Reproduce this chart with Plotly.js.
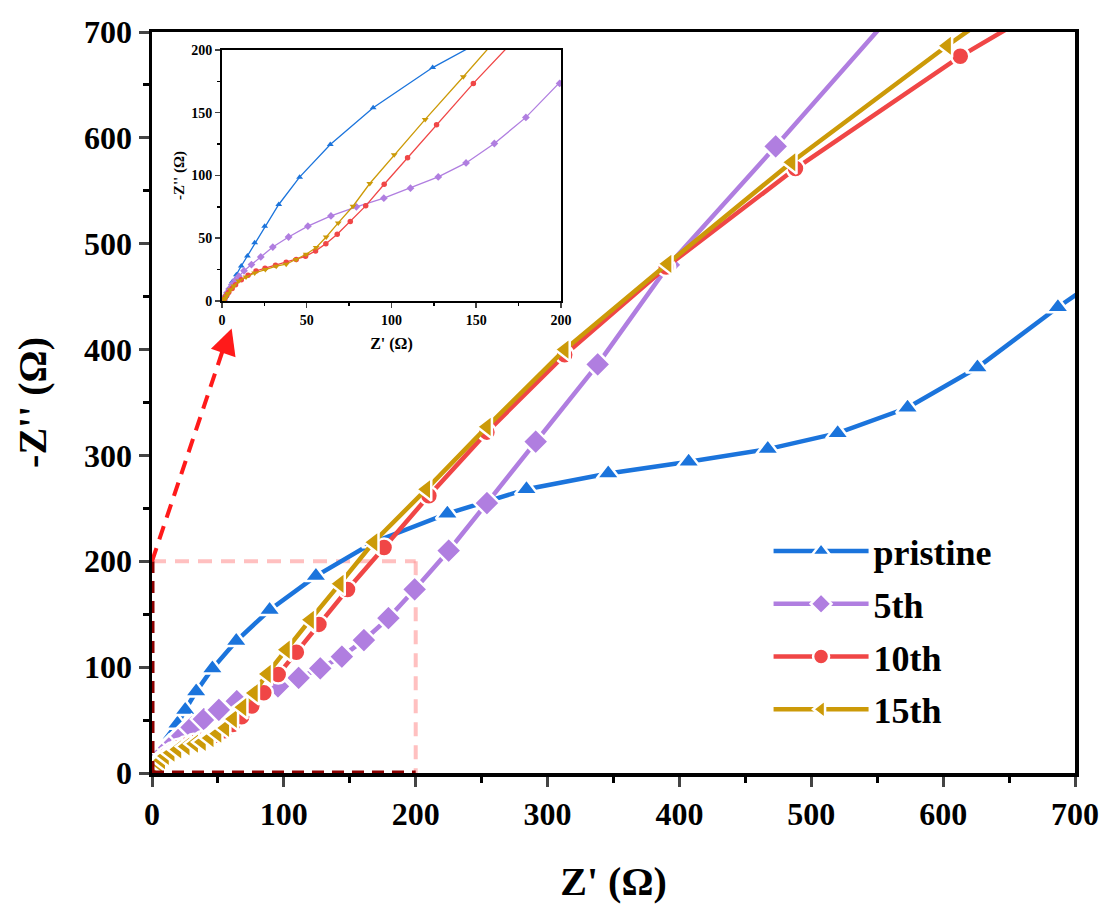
<!DOCTYPE html>
<html>
<head>
<meta charset="utf-8">
<script src="https://cdn.plot.ly/plotly-3.0.1.min.js"></script>
<style>html,body{margin:0;padding:0;background:#fff;}</style>
</head>
<body>
<div id="chart" style="width:1110px;height:911px;"></div>
<script>
// Data (Z' vs -Z'', ohm)
const seriesNames = ["pristine", "5th", "10th", "15th"];

const pristineX = [1.5, 2.2, 3.2, 4.5, 6.2, 8.5, 11.4, 15, 19.3, 25.2, 33.5, 45.8, 63.9, 89.2, 124.3, 168, 224, 284, 346, 407, 467, 520, 573, 626, 687, 720];
const pristineY = [1.5, 3.5, 6.5, 10.5, 15.5, 21, 27.9, 35.9, 46.5, 59.6, 76.9, 98.7, 124.7, 154, 186, 218, 245, 268, 283, 294, 306, 321, 345, 383, 440, 468];

const fifthX = [1.2, 2, 3, 4.2, 5.8, 7.8, 9.9, 13, 17.4, 22.9, 30, 39.3, 50.7, 64.3, 79.3, 95.5, 111.2, 127.6, 144, 160.7, 179.3, 199.2, 225, 254, 291, 338, 392, 473, 560];
const fifthY = [2, 4, 6.5, 9.5, 13, 16.5, 19.7, 24, 29, 35.1, 43, 51, 59.6, 67.8, 75, 81.9, 89.9, 98.9, 110, 125.5, 146.3, 173.4, 210, 255, 313, 386, 480, 592, 715];

const tenthX = [1.5, 2, 3, 4, 6, 8, 11.4, 15.4, 20.1, 25.4, 31.6, 37.9, 43.8, 49.3, 55.2, 61.3, 68, 75.7, 84.8, 95.7, 109.5, 126.6, 148.3, 176, 210, 254, 313, 390, 488, 613, 740];
const tenthY = [1.5, 3, 5, 7, 10, 13, 17, 20.5, 23.9, 26.1, 28.5, 30.9, 33, 35.6, 39.9, 45.7, 53.2, 63.3, 75.8, 93, 114.1, 140.4, 173.4, 213, 262, 322, 395, 478, 571, 677, 770];

const fifteenthX = [1.2, 1.8, 2.5, 3.5, 5, 7, 9.9, 14.2, 19.3, 25.6, 32, 37.9, 43.8, 49.7, 55.6, 61.5, 68.6, 77.3, 87.2, 101.6, 119.9, 142.4, 168, 208, 254, 313, 391, 485, 603, 720];
const fifteenthY = [1, 2, 4, 6, 9, 12, 16, 19.1, 22.3, 25, 27.7, 29.3, 33, 37.2, 42.6, 51, 62.2, 75.5, 93.6, 116.5, 144.7, 178.7, 218, 268, 327, 400, 481, 577, 687, 790];

const xTickVals = [0, 100, 200, 300, 400, 500, 600, 700];
const yTickVals = [0, 100, 200, 300, 400, 500, 600, 700];
const insetTickVals = [0, 50, 100, 150, 200];

const colors = ["#1b74dc", "#b07ee0", "#f04646", "#cc9a08"];
const mainSymbols = ["triangle-up", "diamond", "circle", "triangle-left"];
const mainSizes = [20, 20, 18, 20];
const insetSymbols = ["triangle-up", "diamond", "circle", "triangle-down"];
const insetSizes = [6, 6, 5.5, 6];

const xs = [pristineX, fifthX, tenthX, fifteenthX];
const ys = [pristineY, fifthY, tenthY, fifteenthY];

const FONT = "Liberation Serif, Times New Roman, serif";

const traces = [];
for (let i = 0; i < 4; i++) {
  traces.push({
    x: xs[i], y: ys[i], type: "scatter", mode: "lines+markers",
    name: seriesNames[i], legendgroup: "g" + i,
    line: {color: colors[i], width: 4.5},
    marker: {symbol: mainSymbols[i], size: mainSizes[i], color: colors[i], line: {color: "#ffffff", width: 2.5}},
    cliponaxis: true, xaxis: "x", yaxis: "y"
  });
}
for (let i = 0; i < 4; i++) {
  traces.push({
    x: xs[i], y: ys[i], type: "scatter", mode: "lines+markers",
    name: seriesNames[i], showlegend: false, legendgroup: "g" + i,
    line: {color: colors[i], width: 1.3},
    marker: {symbol: insetSymbols[i], size: insetSizes[i], color: colors[i]},
    cliponaxis: true, xaxis: "x2", yaxis: "y2"
  });
}

const layout = {
  width: 1110, height: 911,
  margin: {l: 152, r: 35, t: 32, b: 138},
  paper_bgcolor: "#ffffff", plot_bgcolor: "#ffffff",
  font: {family: FONT, color: "#000"},
  showlegend: true,
  legend: {
    x: 0.668, y: 0.34, xanchor: "left", yanchor: "top",
    bgcolor: "rgba(0,0,0,0)", borderwidth: 0,
    font: {family: FONT, size: 36, weight: "bold", color: "#000"},
    itemwidth: 95, tracegroupgap: 3, traceorder: "grouped"
  },
  xaxis: {
    range: [0, 700], tickvals: xTickVals, ticks: "outside", ticklen: 10, tickwidth: 3,
    showline: true, linewidth: 3.5, linecolor: "#000", mirror: true,
    showgrid: false, zeroline: false,
    minor: {dtick: 50, ticks: "outside", ticklen: 6, tickwidth: 3, tickcolor: "#000", showgrid: false},
    tickfont: {family: FONT, size: 32, weight: "bold"},
    title: {text: "Z' (Ω)", font: {family: FONT, size: 40, weight: "bold"}, standoff: 37},
    domain: [0, 1], anchor: "y"
  },
  yaxis: {
    range: [0, 700], tickvals: yTickVals, ticks: "outside", ticklen: 10, tickwidth: 3,
    showline: true, linewidth: 3.5, linecolor: "#000", mirror: true,
    showgrid: false, zeroline: false,
    minor: {dtick: 50, ticks: "outside", ticklen: 6, tickwidth: 3, tickcolor: "#000", showgrid: false},
    tickfont: {family: FONT, size: 32, weight: "bold"},
    title: {text: "-Z'' (Ω)", font: {family: FONT, size: 40, weight: "bold"}, standoff: 26},
    domain: [0, 1], anchor: "x"
  },
  xaxis2: {
    range: [0, 200], tickvals: insetTickVals, ticks: "outside", ticklen: 5, tickwidth: 1.5,
    showline: true, linewidth: 2, linecolor: "#000", mirror: true,
    showgrid: false, zeroline: false,
    minor: {dtick: 25, ticks: "outside", ticklen: 3, tickwidth: 1.5, tickcolor: "#000", showgrid: false},
    tickfont: {family: FONT, size: 14, weight: "bold"},
    title: {text: "Z' (Ω)", font: {family: FONT, size: 16, weight: "bold"}, standoff: 11},
    domain: [0.0758, 0.4431], anchor: "y2"
  },
  yaxis2: {
    range: [0, 200], tickvals: insetTickVals, ticks: "outside", ticklen: 5, tickwidth: 1.5,
    showline: true, linewidth: 2, linecolor: "#000", mirror: true,
    showgrid: false, zeroline: false,
    minor: {dtick: 25, ticks: "outside", ticklen: 3, tickwidth: 1.5, tickcolor: "#000", showgrid: false},
    tickfont: {family: FONT, size: 14, weight: "bold"},
    title: {text: "-Z'' (Ω)", font: {family: FONT, size: 15, weight: "bold"}, standoff: 3},
    domain: [0.637, 0.9757], anchor: "x2"
  },
  shapes: [
    {type: "rect", xref: "x2 domain", yref: "y2 domain", x0: 0, x1: 1, y0: 0, y1: 1,
     fillcolor: "#ffffff", line: {width: 0}, layer: "below"},
    {type: "line", xref: "x", yref: "y", x0: 0, y0: 200, x1: 200, y1: 200,
     line: {color: "rgba(255,150,150,0.6)", width: 4, dash: "14px,9px"}, layer: "below"},
    {type: "line", xref: "x", yref: "y", x0: 200, y0: 200, x1: 200, y1: 0,
     line: {color: "rgba(255,150,150,0.6)", width: 4, dash: "14px,9px"}, layer: "below"},
    {type: "line", xref: "x", yref: "y", x0: 0, y0: 0, x1: 200, y1: 0,
     line: {color: "#8b0000", width: 5, dash: "12px,8px"}, layer: "above"},
    {type: "line", xref: "x", yref: "y", x0: 0, y0: 0, x1: 0, y1: 200,
     line: {color: "#8b0000", width: 5, dash: "12px,8px"}, layer: "above"},
    {type: "line", xref: "x", yref: "y", x0: 0, y0: 200, x1: 56, y1: 408,
     line: {color: "#ff1a1a", width: 4, dash: "14px,9px"}, layer: "above"}
  ],
  annotations: [
    {x: 60.4, y: 420, xref: "x", yref: "y", ax: -6.5, ay: 19, axref: "pixel", ayref: "pixel",
     showarrow: true, arrowhead: 2, arrowsize: 1.3, arrowwidth: 4, arrowcolor: "#ff1a1a", text: ""}
  ]
};

Plotly.newPlot("chart", traces, layout, {displayModeBar: false, staticPlot: true});
</script>
</body>
</html>
